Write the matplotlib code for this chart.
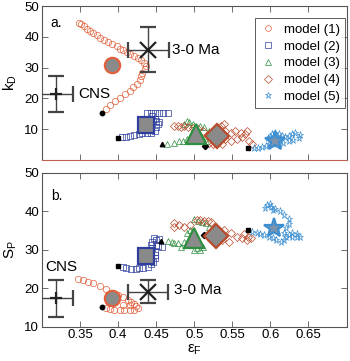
import matplotlib
matplotlib.use("Agg")
import matplotlib.pyplot as plt
import numpy as np

plt.rcParams['font.family'] = ['Liberation Sans', 'DejaVu Sans']
plt.rcParams['mathtext.fontset'] = 'custom'
plt.rcParams['mathtext.rm'] = 'Liberation Sans'
plt.rcParams['mathtext.it'] = 'Liberation Sans:italic'

# ---- data: panel a (k_D vs eps_F) ----
m1a_x = [0.348, 0.351, 0.355, 0.359, 0.363, 0.367, 0.372, 0.376, 0.381, 0.387, 0.392,
         0.398, 0.403, 0.407, 0.412, 0.416, 0.421, 0.426, 0.430, 0.434, 0.437, 0.435,
         0.432, 0.430, 0.429, 0.425, 0.420, 0.415, 0.409, 0.402, 0.396, 0.389, 0.384]
m1a_y = [44.5, 44.1, 43.5, 42.7, 42.0, 41.3, 40.6, 39.8, 39.1, 38.3, 37.7,
         37.0, 36.2, 35.6, 35.0, 34.5, 33.8, 33.0, 32.4, 31.6, 30.6, 29.5,
         28.3, 27.2, 26.0, 24.8, 23.6, 22.5, 21.3, 20.2, 19.0, 17.7, 16.6]
m2a_x = [0.405, 0.411, 0.416, 0.421, 0.427, 0.432, 0.438, 0.443, 0.448, 0.450, 0.452,
         0.450, 0.445, 0.438, 0.443, 0.449, 0.454, 0.459, 0.465, 0.454, 0.448]
m2a_y = [7.4, 7.6, 7.9, 8.2, 8.4, 8.6, 8.8, 8.9, 9.5, 10.6, 11.7,
         12.7, 14.2, 15.4, 15.4, 15.4, 15.4, 15.4, 15.3, 12.2, 13.3]
m3a_x = [0.464, 0.474, 0.480, 0.485, 0.491, 0.493, 0.491, 0.498, 0.506, 0.511, 0.515,
         0.519, 0.513, 0.508, 0.487]
m3a_y = [5.1, 5.6, 6.2, 6.2, 6.8, 12.2, 12.7, 11.7, 6.2, 6.8, 6.2,
         9.5, 10.6, 11.1, 11.8]
m4a_x = [0.474, 0.478, 0.482, 0.487, 0.492, 0.498, 0.541, 0.548, 0.554, 0.561, 0.567,
         0.569, 0.563, 0.556, 0.548, 0.541, 0.537, 0.524, 0.519, 0.539, 0.535, 0.576,
         0.572, 0.505, 0.512]
m4a_y = [11.1, 11.1, 10.6, 11.1, 10.8, 10.4, 9.5, 8.9, 9.5, 8.9, 8.4,
         9.5, 7.3, 6.8, 6.2, 6.8, 5.1, 5.1, 5.6, 11.7, 11.1, 5.1,
         6.0, 10.0, 9.5]
m5a_x = [0.578, 0.584, 0.589, 0.594, 0.598, 0.601, 0.602, 0.606, 0.611, 0.615, 0.619,
         0.624, 0.628, 0.633, 0.639, 0.637, 0.630, 0.624, 0.617, 0.611, 0.604, 0.600,
         0.597, 0.613, 0.609]
m5a_y = [3.8, 4.0, 4.2, 4.6, 5.3, 6.8, 8.4, 8.6, 8.4, 7.8, 7.5,
         7.8, 8.4, 8.6, 8.2, 7.1, 6.4, 6.0, 5.6, 5.1, 5.3, 7.5,
         7.1, 6.8, 7.3]
start_a_x = [0.379, 0.400, 0.457, 0.514, 0.571]
start_a_y = [15.1, 7.1, 5.1, 4.6, 4.0]
mean_a_x = [0.392, 0.437, 0.502, 0.530, 0.606]
mean_a_y = [30.9, 11.5, 8.4, 7.8, 6.2]

# ---- data: panel b (S_P vs eps_F) ----
m1b_x = [0.347, 0.354, 0.360, 0.367, 0.376, 0.384, 0.393, 0.400, 0.406, 0.413, 0.417,
         0.421, 0.424, 0.426, 0.421, 0.415, 0.408, 0.402, 0.395, 0.389, 0.384, 0.406,
         0.415]
m1b_y = [22.3, 22.1, 21.7, 21.3, 20.6, 19.7, 18.8, 18.2, 17.6, 16.9, 16.5,
         15.9, 15.4, 14.8, 14.3, 14.3, 14.3, 14.3, 14.3, 14.5, 14.8, 15.6,
         15.6]
m2b_x = [0.406, 0.411, 0.417, 0.423, 0.428, 0.433, 0.439, 0.443, 0.446, 0.448, 0.449,
         0.448, 0.444, 0.443, 0.445, 0.450, 0.454, 0.450, 0.458, 0.437, 0.440, 0.442,
         0.452, 0.447]
m2b_y = [25.6, 25.2, 25.0, 25.0, 25.2, 25.3, 25.6, 26.2, 26.9, 27.8, 28.6,
         29.5, 30.4, 31.2, 32.1, 32.5, 32.8, 31.2, 30.8, 30.0, 29.0, 27.5,
         31.0, 33.0]
m3b_x = [0.465, 0.471, 0.478, 0.487, 0.474, 0.491, 0.504, 0.508, 0.500, 0.482, 0.511,
         0.505, 0.510, 0.515, 0.520, 0.500, 0.495]
m3b_y = [32.3, 32.1, 31.7, 32.1, 31.7, 34.3, 30.4, 29.9, 29.9, 30.8, 30.8,
         37.5, 37.2, 36.8, 36.0, 38.0, 35.0]
m4b_x = [0.474, 0.480, 0.487, 0.494, 0.503, 0.508, 0.513, 0.518, 0.522, 0.539, 0.548,
         0.556, 0.563, 0.569, 0.574, 0.571, 0.537, 0.545, 0.474, 0.565]
m4b_y = [36.9, 36.4, 36.0, 36.3, 37.7, 37.6, 37.4, 37.3, 37.2, 35.1, 34.3,
         33.4, 33.0, 32.5, 33.0, 33.4, 32.5, 32.1, 36.0, 34.0]
m5b_x = [0.576, 0.582, 0.587, 0.592, 0.598, 0.603, 0.608, 0.614, 0.618, 0.620, 0.618,
         0.621, 0.625, 0.624, 0.618, 0.612, 0.606, 0.601, 0.595, 0.593, 0.599, 0.603,
         0.624, 0.629, 0.635, 0.639, 0.635, 0.629, 0.608, 0.602]
m5b_y = [34.7, 34.4, 34.1, 33.8, 33.4, 33.0, 32.5, 32.1, 32.5, 33.4, 34.4,
         35.6, 36.7, 37.9, 39.0, 39.9, 40.5, 41.0, 41.5, 40.8, 41.9, 40.3,
         33.8, 33.4, 33.2, 33.4, 34.1, 34.4, 35.1, 36.0]
start_b_x = [0.379, 0.400, 0.456, 0.513, 0.570]
start_b_y = [15.1, 25.8, 32.3, 33.8, 35.1]
mean_b_x = [0.392, 0.436, 0.500, 0.528, 0.605]
mean_b_y = [17.4, 28.4, 33.0, 33.6, 35.7]

# observations: CNS and 3-0 Ma (value, error)
cns_a = (0.319, 21.5, 0.0215, 5.8)
ma_a = (0.4395, 35.9, 0.027, 7.4)
cns_b = (0.319, 17.4, 0.022, 4.8)
ma_b = (0.4395, 19.1, 0.026, 3.0)

labels = ['model (1)', 'model (2)', 'model (3)', 'model (4)', 'model (5)']
colors = ['#e2603c', '#2f3f9e', '#2e8f40', '#b94a2c', '#3d8fd2']
markers = ['o', 's', '^', 'D', '*']
big_sizes = [11, 11, 15, 12, 15]
small_sizes = [4.6, 4.2, 4.8, 4.2, 5.2]
gray = '#8a8a8a'

fig = plt.figure(figsize=(3.5, 3.61), dpi=100)
ax1 = fig.add_axes([0.12, 0.557, 0.87, 0.426])
ax2 = fig.add_axes([0.12, 0.095, 0.87, 0.427])

panel_a = [(m1a_x, m1a_y), (m2a_x, m2a_y), (m3a_x, m3a_y), (m4a_x, m4a_y), (m5a_x, m5a_y)]
panel_b = [(m1b_x, m1b_y), (m2b_x, m2b_y), (m3b_x, m3b_y), (m4b_x, m4b_y), (m5b_x, m5b_y)]


def draw_panel(ax, series, sx, sy, mx, my, cns, ma, cns_txt, ma_txt):
    for i, (x, y) in enumerate(series):
        ax.plot(x, y, linestyle='none', marker=markers[i], ms=small_sizes[i],
                mfc='none', mec=colors[i], mew=0.5, label=labels[i])
    for i in range(5):
        ax.plot(sx[i], sy[i], linestyle='none', marker=markers[i] if i < 4 else 's',
                ms=3.2 if i < 4 else 2.5, color='black')
        ax.plot(mx[i], my[i], linestyle='none', marker=markers[i], ms=big_sizes[i],
                mfc=gray if i < 4 else '#7d93ab', mec=colors[i], mew=1.6, zorder=5)
    for (x, y, xe, ye), mk in [(cns, '+'), (ma, 'x')]:
        ax.errorbar(x, y, xerr=xe, yerr=ye, fmt=mk, color='#222222', ecolor='#444444',
                    elinewidth=1.0, capsize=6, capthick=1.0, ms=11 if mk == 'x' else 9,
                    mew=1.6, zorder=6)
    ax.text(*cns_txt, 'CNS', fontsize=11, va='center', ha='left')
    ax.text(*ma_txt, '3-0 Ma', fontsize=11, va='center', ha='left')
    ax.set_xlim(0.30, 0.70)
    ax.set_xticks([0.35, 0.40, 0.45, 0.50, 0.55, 0.60, 0.65])
    ax.set_yticks([10, 20, 30, 40, 50])
    ax.tick_params(direction='in', top=True, right=True, length=4, width=0.6,
                   color='#555555', labelsize=9.5, pad=2)
    for s in ax.spines.values():
        s.set_color('#555555')
        s.set_linewidth(0.8)


draw_panel(ax1, panel_a, start_a_x, start_a_y, mean_a_x, mean_a_y, cns_a, ma_a,
           (0.347, 21.5), (0.471, 35.9))
ax1.set_ylim(0, 50)
ax1.set_xticklabels([])
ax1.spines['bottom'].set_color('#c06050')
ax1.text(0.319, 44.5, 'a.', fontsize=10, va='center', ha='center')
ax1.set_ylabel(r'$\mathregular{k_D}$', fontsize=11, labelpad=4)
ax1.legend(loc='upper right', bbox_to_anchor=(0.995, 0.922), borderaxespad=0,
           fontsize=9.5, frameon=True, fancybox=False, edgecolor='#333333',
           handlelength=1.2, handletextpad=0.6, labelspacing=0.35, borderpad=0.4,
           markerscale=0.9).get_frame().set_linewidth(0.7)

draw_panel(ax2, panel_b, start_b_x, start_b_y, mean_b_x, mean_b_y, cns_b, ma_b,
           (0.304, 25.4), (0.4735, 19.5))
ax2.set_ylim(10, 50)
ax2.set_xticklabels(['0.35', '0.4', '0.45', '0.5', '0.55', '0.6', '0.65'])
ax2.text(0.319, 43.8, 'b.', fontsize=10, va='center', ha='center')
ax2.set_ylabel(r'$\mathregular{S_P}$', fontsize=11, labelpad=4)
ax2.set_xlabel(r'$\mathregular{ε_F}$', fontsize=11, labelpad=1)

fig.savefig('out.png', dpi=100)
